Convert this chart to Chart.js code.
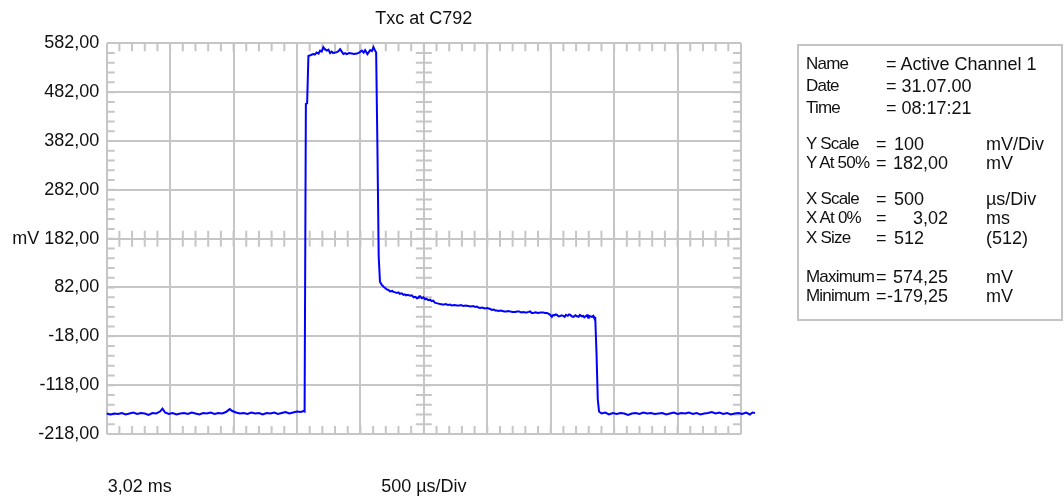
<!DOCTYPE html>
<html>
<head>
<meta charset="utf-8">
<title>Txc at C792</title>
<script src="https://cdn.jsdelivr.net/npm/chart.js@4.4.1/dist/chart.umd.min.js"></script>
<style>
  html, body { margin: 0; padding: 0; background: #fff; }
  body { width: 1064px; height: 500px; position: relative; overflow: hidden; font-family: "Liberation Sans", Arial, sans-serif; }
  #wrap { position: absolute; left: 0; top: 0; width: 848px; height: 500px; }
  #info { position: absolute; left: 797px; top: 44px; width: 262px; height: 273px; border: 2px solid #c4c4c4; }
  .cell { position: absolute; font-size: 18px; line-height: 20px; color: #111; white-space: nowrap; }
  .label { font-size: 17px; letter-spacing: -0.8px; }
</style>
</head>
<body>
<div id="wrap"><canvas id="scope"></canvas></div>
<div id="info"></div>
<script>
// Trace samples, time in ms from the left edge (3,02 ms), voltage in mV
const timeMs = [
  0.00, 0.03, 0.06, 0.09, 0.12, 0.15, 0.18, 0.21, 0.24, 0.27, 0.30, 0.33, 0.36, 0.39, 0.42, 0.44, 0.46, 0.49,
  0.52, 0.55, 0.58, 0.61, 0.64, 0.67, 0.70, 0.73, 0.76, 0.79, 0.82, 0.85, 0.88, 0.91, 0.94, 0.97, 0.99,
  1.02, 1.05, 1.08, 1.11, 1.14, 1.17, 1.20, 1.23, 1.26, 1.29, 1.32, 1.35, 1.38, 1.41, 1.44, 1.47, 1.50, 1.53, 1.55,
  1.56, 1.57, 1.58, 1.59,
  1.61, 1.627, 1.64, 1.656, 1.67, 1.682, 1.695, 1.708, 1.72, 1.735, 1.748, 1.761, 1.773, 1.785, 1.80, 1.814,
  1.827, 1.84, 1.853, 1.866, 1.88, 1.893, 1.91, 1.932, 1.95, 1.972, 1.99, 2.011, 2.025, 2.037, 2.055, 2.066,
  2.077, 2.09, 2.103, 2.114, 2.124,
  2.134, 2.144, 2.154,
  2.167, 2.181, 2.195, 2.208, 2.221, 2.234, 2.25, 2.26, 2.275, 2.287, 2.30, 2.31, 2.325, 2.339, 2.35, 2.36,
  2.375, 2.392, 2.405, 2.42, 2.433, 2.445, 2.455, 2.46, 2.47, 2.485, 2.497, 2.51, 2.52, 2.535, 2.55, 2.562,
  2.574, 2.587, 2.60, 2.615, 2.629, 2.645, 2.66, 2.675, 2.69, 2.707, 2.72, 2.74, 2.76, 2.78, 2.795, 2.81,
  2.83, 2.85, 2.87, 2.89, 2.905, 2.918, 2.93, 2.944, 2.96, 2.98, 3.00, 3.023, 3.035, 3.05, 3.063, 3.076,
  3.09, 3.105, 3.12, 3.135, 3.15, 3.165, 3.181, 3.20, 3.22, 3.235, 3.25, 3.267, 3.283, 3.30, 3.31, 3.325,
  3.338, 3.35, 3.362, 3.38, 3.40, 3.42, 3.44, 3.455, 3.47, 3.485, 3.496, 3.509, 3.52, 3.53, 3.54, 3.549,
  3.56, 3.57, 3.585, 3.599, 3.61, 3.62, 3.635, 3.645, 3.654, 3.665, 3.68, 3.695, 3.707, 3.72, 3.73, 3.745,
  3.756, 3.765, 3.775, 3.785, 3.795, 3.80, 3.81, 3.825, 3.835, 3.84, 3.851,
  3.861, 3.871, 3.881,
  3.90, 3.93, 3.96, 3.99, 4.02, 4.05, 4.08, 4.11, 4.14, 4.17, 4.20, 4.23, 4.26, 4.29, 4.32, 4.35, 4.38, 4.41,
  4.44, 4.47, 4.50, 4.53, 4.56, 4.59, 4.62, 4.65, 4.68, 4.71, 4.74, 4.77, 4.80, 4.83, 4.86, 4.89, 4.92, 4.95,
  4.98, 5.01, 5.04, 5.07, 5.09, 5.11
];
const voltageMv = [
  -176, -178, -176, -177, -175, -178, -176, -174, -177, -175, -176, -179, -175, -176, -172, -166, -174, -177,
  -175, -178, -176, -175, -177, -174, -176, -178, -175, -176, -174, -177, -175, -176, -173, -167, -171,
  -174, -176, -175, -177, -174, -176, -175, -178, -175, -176, -174, -177, -175, -173, -176, -174, -172, -173, -171,
  -172, 458, 459, 556,
  558, 560, 559, 563, 561, 567, 565, 574, 570, 567, 569, 562, 565, 562, 563, 564,
  566, 570, 565, 560, 562, 560, 562, 561, 560, 561, 563, 567, 563, 568, 560, 564,
  568, 566, 574, 568, 563,
  369, 146, 94,
  88, 84, 81, 78, 77, 74, 75, 73, 72, 71, 72, 69, 70, 67, 68, 66,
  67, 65, 66, 62, 63, 60, 61, 63, 64, 60, 62, 58, 59, 56, 57, 54,
  55, 51, 50, 49, 48, 47, 47, 48, 46, 47, 45, 46, 45, 45, 46, 44,
  45, 44, 43, 44, 42, 43, 41, 40, 41, 39, 40, 38, 36, 37, 35, 35,
  34, 35, 34, 33, 33, 34, 33, 32, 32, 33, 33, 31, 32, 31, 31, 32,
  33, 30, 30, 31, 30, 31, 31, 30, 30, 28, 26, 22, 26, 25, 27, 26,
  23, 23, 25, 24, 22, 26, 24, 27, 26, 23, 22, 25, 23, 22, 26, 23,
  24, 21, 23, 25, 20, 24, 23, 22, 24, 21, 20,
  -52, -147, -172,
  -176, -174, -178, -175, -177, -175, -176, -179, -176, -175, -177, -174, -176, -175, -177, -176, -175, -178,
  -176, -174, -177, -175, -176, -174, -177, -175, -178, -176, -175, -173, -176, -174, -177, -175, -178, -176,
  -175, -177, -174, -178, -174, -175
];

// Axis divisions
const xGridMs = [0, 0.5, 1, 1.5, 2, 2.5, 3, 3.5, 4, 4.5, 5];
const yTickMv = [-218, -118, -18, 82, 182, 282, 382, 482, 582];
const yCenterMv = 182;
const xCenterMs = 2.5;

// Info panel
const infoLabels = ["Name", "Date", "Time", "Y Scale", "Y At 50%", "X Scale", "X At 0%", "X Size", "Maximum", "Minimum"];
const infoValues = ["= Active Channel 1", "= 31.07.00", "= 08:17:21", "100", "182,00", "500", "3,02", "512", "574,25", "-179,25"];
const infoUnits = ["", "", "", "mV/Div", "mV", "µs/Div", "ms", "(512)", "mV", "mV"];

const FONT = "Liberation Sans, Arial, sans-serif";
const GRID = "#c6c6c6";

// build the info box text
const rowY = [64, 86, 108, 144, 163, 199, 218, 238, 277, 296];
function addCell(text, y, left, right, cls) {
  const el = document.createElement("div");
  el.className = "cell" + (cls ? " " + cls : "");
  el.textContent = text;
  el.style.top = (y - 10) + "px";
  if (right != null) el.style.right = (1064 - right) + "px";
  else el.style.left = left + "px";
  document.body.appendChild(el);
}
infoLabels.forEach((label, i) => {
  addCell(label, rowY[i], 806, null, "label");
  if (i < 3) {
    addCell(infoValues[i], rowY[i], 886);
    return;
  }
  addCell("=", rowY[i], 876);
  if (infoValues[i].includes(",")) addCell(infoValues[i], rowY[i], null, 948);
  else addCell(infoValues[i], rowY[i], 894);
  addCell(infoUnits[i], rowY[i], 986);
});

// short inward ticks on the border and on the centre cross
const minorTicks = {
  id: "minorTicks",
  beforeDatasetsDraw(chart) {
    const { ctx, chartArea: a, scales: { x, y } } = chart;
    const cx = x.getPixelForValue(xCenterMs);
    const cy = y.getPixelForValue(yCenterMv);
    const len = 8;
    ctx.save();
    ctx.strokeStyle = GRID;
    ctx.lineWidth = 2;
    ctx.beginPath();
    for (let i = 1; i < 50; i++) {
      const px = x.getPixelForValue(i / 10);
      ctx.moveTo(px, a.top); ctx.lineTo(px, a.top + len);
      ctx.moveTo(px, a.bottom); ctx.lineTo(px, a.bottom - len);
      ctx.moveTo(px, cy - len); ctx.lineTo(px, cy + len);
    }
    for (let i = 1; i < 40; i++) {
      const py = y.getPixelForValue(-218 + i * 20);
      ctx.moveTo(a.left, py); ctx.lineTo(a.left + len, py);
      ctx.moveTo(a.right, py); ctx.lineTo(a.right - len, py);
      ctx.moveTo(cx - len, py); ctx.lineTo(cx + len, py);
    }
    ctx.stroke();
    ctx.restore();
  }
};

// title above and time base labels under the screen
const screenLabels = {
  id: "screenLabels",
  afterDraw(chart) {
    const { ctx, chartArea: a } = chart;
    const mid = (a.left + a.right) / 2;
    ctx.save();
    ctx.font = "18px " + FONT;
    ctx.fillStyle = "#111";
    ctx.textBaseline = "middle";
    ctx.textAlign = "center";
    ctx.fillText("Txc at C792", mid, 19);
    ctx.fillText("500 µs/Div", mid, 487);
    ctx.textAlign = "left";
    ctx.fillText("3,02 ms", a.left + 1, 487);
    ctx.restore();
  }
};

const points = timeMs.map((t, i) => ({ x: t, y: voltageMv[i] }));

new Chart(document.getElementById("scope"), {
  type: "line",
  data: {
    datasets: [
      {
        data: points,
        borderColor: "#0000ff",
        borderWidth: 2,
        pointRadius: 0,
        tension: 0,
        clip: false,
      },
    ],
  },
  options: {
    responsive: true,
    maintainAspectRatio: false,
    animation: false,
    layout: { padding: { left: 0, right: 107, top: 43.3, bottom: 66 } },
    plugins: {
      legend: { display: false },
      tooltip: { enabled: false },
    },
    scales: {
      x: {
        type: "linear",
        bounds: "data",
        // set the range here, not with min/max, so the samples past 5 ms still get drawn
        afterDataLimits: (s) => { s.min = 0; s.max = 5; },
        afterBuildTicks: (s) => { s.ticks = xGridMs.map((v) => ({ value: v })); },
        afterFit: (s) => { s.height = 0; },
        ticks: { display: false },
        grid: { color: GRID, lineWidth: 2, drawTicks: false },
        border: { display: false },
      },
      y: {
        min: -218,
        max: 582,
        afterBuildTicks: (s) => { s.ticks = yTickMv.map((v) => ({ value: v })); },
        afterFit: (s) => { s.width = 106.7; },
        ticks: {
          color: "#111",
          font: { family: FONT, size: 18 },
          padding: 7.5,
          callback: (v) => (v === yCenterMv ? "mV " : "") + v.toFixed(2).replace(".", ","),
        },
        grid: { color: GRID, lineWidth: 2, drawTicks: false },
        border: { display: false },
      },
    },
  },
  plugins: [minorTicks, screenLabels],
});
</script>
</body>
</html>
